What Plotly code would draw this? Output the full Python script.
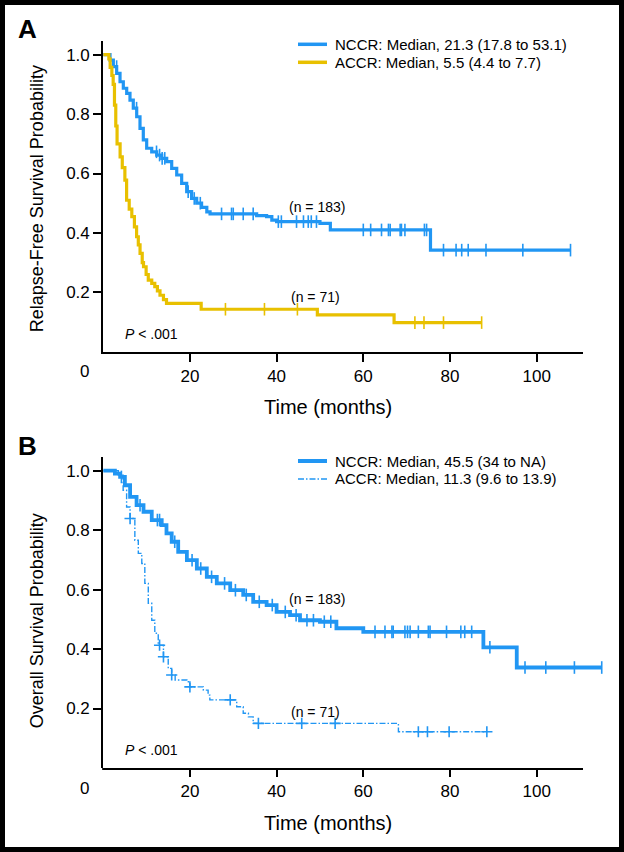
import numpy as np
import plotly.graph_objects as go

W, H = 624, 852

# ---------------- Panel A: relapse-free survival ----------------
rfs_nccr_t = [0, 1.57, 2.34, 3.11, 3.88, 4.64, 5.42, 6.18, 6.94, 7.73, 8.49, 9.25, 10.03,
              11.19, 12.34, 13.5, 14.65, 15.8, 16.96, 18.1, 19.26, 20.4, 21.57, 22.7, 23.9,
              24.65, 35.4, 37.7, 38.9, 40.0, 50.0, 52.4, 75.5]
rfs_nccr_s = [1.0, 0.982, 0.960, 0.937, 0.909, 0.887, 0.870, 0.847, 0.820, 0.791, 0.752, 0.713,
              0.685, 0.673, 0.662, 0.651, 0.640, 0.617, 0.595, 0.567, 0.539, 0.516, 0.500,
              0.486, 0.471, 0.464, 0.458, 0.455, 0.443, 0.438, 0.432, 0.410, 0.342]
rfs_nccr_end = 107.8
rfs_nccr_cens = [3.1, 7.7, 12.3, 13.0, 13.6, 14.2, 19.6, 21.0, 22.4, 27.3, 29.6, 30.0, 32.3,
                 34.6, 40.4, 41.1, 44.6, 46.2, 47.3, 48.0, 49.2, 60.0, 61.7, 64.2, 65.8, 66.2,
                 68.5, 68.8, 69.6, 74.1, 74.6, 78.5, 81.4, 82.7, 84.2, 88.3, 96.8, 107.8]

rfs_accr_t = [0, 1.3, 1.6, 2.0, 2.3, 2.6, 2.9, 3.2, 3.9, 4.4, 5.0, 5.4, 6.0, 6.6, 7.2, 7.7,
              8.1, 8.5, 9.0, 9.3, 9.9, 10.4, 11.2, 11.9, 12.5, 13.1, 13.9, 14.6, 22.6, 49.4, 67.1]
rfs_accr_s = [1.0, 0.986, 0.957, 0.93, 0.90, 0.83, 0.76, 0.70, 0.656, 0.62, 0.578, 0.51, 0.48,
              0.455, 0.42, 0.387, 0.36, 0.331, 0.30, 0.286, 0.26, 0.241, 0.23, 0.219, 0.205,
              0.19, 0.175, 0.163, 0.143, 0.124, 0.098]
rfs_accr_end = 87.3
rfs_accr_cens = [28.2, 37.2, 44.8, 71.9, 74.0, 78.5, 87.3]

# ---------------- Panel B: overall survival ----------------
os_nccr_t = [0, 2.7, 3.9, 5.0, 6.2, 7.7, 9.3, 11.2, 13.5, 14.6, 15.8, 17.3, 19.3, 21.6, 23.9,
             26.2, 29.3, 32.3, 34.6, 37.7, 40.0, 43.1, 45.4, 50.0, 53.8, 60.0, 87.7, 95.4]
os_nccr_s = [1.0, 0.99, 0.979, 0.951, 0.912, 0.884, 0.862, 0.834, 0.817, 0.789, 0.761, 0.727,
             0.699, 0.671, 0.643, 0.621, 0.598, 0.582, 0.559, 0.548, 0.525, 0.514, 0.497,
             0.492, 0.470, 0.458, 0.406, 0.338]
os_nccr_end = 115.0
os_nccr_cens = [4.2, 8.5, 12.5, 13.0, 16.5, 20.5, 22.5, 25.0, 28.0, 30.5, 33.0, 36.0, 39.0,
                42.0, 44.5, 47.0, 48.5, 51.0, 52.5, 62.7, 65.0, 66.6, 66.9, 69.6, 70.2, 70.8,
                72.7, 75.0, 75.4, 79.2, 82.5, 83.4, 85.0, 89.2, 97.3, 102.1, 108.7, 115.0]

os_accr_t = [0, 3.5, 4.6, 5.4, 6.2, 7.3, 8.1, 8.9, 9.6, 10.4, 11.2, 11.9, 12.7, 13.9, 15.0,
             15.8, 16.6, 19.3, 20.0, 23.1, 24.2, 24.6, 30.8, 32.3, 33.5, 34.6, 68.1]
os_accr_s = [1.0, 0.985, 0.934, 0.878, 0.839, 0.766, 0.722, 0.688, 0.621, 0.554, 0.497, 0.453,
             0.413, 0.374, 0.335, 0.313, 0.296, 0.29, 0.273, 0.262, 0.245, 0.229, 0.206,
             0.184, 0.172, 0.150, 0.122]
os_accr_end = 88.5
os_accr_cens = [6.2, 13.0, 13.9, 15.8, 20.0, 29.3, 35.8, 45.8, 53.5, 72.7, 74.8, 79.8, 88.5]

x_tick_vals = [20, 40, 60, 80, 100]
y_tick_vals = [0.2, 0.4, 0.6, 0.8, 1.0]
y_tick_text = ["0.2", "0.4", "0.6", "0.8", "1.0"]

leg_a = ["NCCR: Median, 21.3 (17.8 to 53.1)", "ACCR: Median, 5.5 (4.4 to 7.7)"]
leg_b = ["NCCR: Median, 45.5 (34 to NA)", "ACCR: Median, 11.3 (9.6 to 13.9)"]

BLUE = "#2196f3"
YELLOW = "#e8c000"
FONT = "Liberation Sans, Arial, sans-serif"
TFONT = "Liberation Sans Narrow, Arial Narrow, Liberation Sans, Arial, sans-serif"
DASHDOT = "6px,2px,1.5px,2px"


def px(x):
    return x / W


def py(y):
    return 1 - y / H


def step_val(t, s, x):
    t = np.asarray(t)
    s = np.asarray(s)
    idx = np.searchsorted(t, np.asarray(x), side="right") - 1
    return s[idx]


fig = go.Figure()


def add_curve(t, s, end, cens, color, width, dash, name, xa, ya, csym, csize):
    xs = list(t) + [end]
    ys = list(s) + [s[-1]]
    fig.add_trace(go.Scatter(x=xs, y=ys, mode="lines", line=dict(color=color, width=width, dash=dash, shape="hv"),
                             name=name, xaxis=xa, yaxis=ya, showlegend=False, hoverinfo="skip"))
    fig.add_trace(go.Scatter(x=cens, y=step_val(t, s, cens), mode="markers",
                             marker=dict(symbol=csym, size=csize, color=color, line=dict(color=color, width=1.6)),
                             showlegend=False, xaxis=xa, yaxis=ya, hoverinfo="skip", cliponaxis=False))


add_curve(rfs_nccr_t, rfs_nccr_s, rfs_nccr_end, rfs_nccr_cens, BLUE, 3.2, "solid", leg_a[0], "x", "y", "line-ns-open", 9)
add_curve(rfs_accr_t, rfs_accr_s, rfs_accr_end, rfs_accr_cens, YELLOW, 3.2, "solid", leg_a[1], "x", "y", "line-ns-open", 9)
add_curve(os_nccr_t, os_nccr_s, os_nccr_end, os_nccr_cens, BLUE, 3.8, "solid", leg_b[0], "x2", "y2", "line-ns-open", 9)
add_curve(os_accr_t, os_accr_s, os_accr_end, os_accr_cens, BLUE, 1.4, DASHDOT, leg_b[1], "x2", "y2", "cross-thin-open", 8)

XSCALE = 4.335  # px per month
X0 = 103.2
A_TOP, A_BOT = 40.7, 351.7
B_TOP, B_BOT = 456.7, 768.0
A_RIGHT = 583.0
B_RIGHT = 606.0

axis_common = dict(showgrid=False, zeroline=False, ticks="outside", ticklen=8, tickwidth=2,
                   tickcolor="black", linecolor="black", linewidth=2,
                   tickfont=dict(family=FONT, size=17, color="black"), fixedrange=True)

fig.update_layout(
    width=W, height=H, margin=dict(l=0, r=0, t=0, b=0), autosize=False,
    paper_bgcolor="white", plot_bgcolor="white", showlegend=False,
    xaxis=dict(domain=[px(X0), px(A_RIGHT)], range=[0, (A_RIGHT - X0) / XSCALE], anchor="y",
               tickvals=x_tick_vals, showline=True, **axis_common),
    yaxis=dict(domain=[py(A_BOT), py(A_TOP)], range=[0, (A_BOT - A_TOP) / 297.0], anchor="x",
               tickvals=y_tick_vals, ticktext=y_tick_text, showline=True, **axis_common),
    xaxis2=dict(domain=[px(X0), px(B_RIGHT)], range=[0, (B_RIGHT - X0) / XSCALE], anchor="y2",
                tickvals=x_tick_vals, showline=False, **axis_common),
    yaxis2=dict(domain=[py(B_BOT), py(B_TOP)], range=[0, (B_BOT - B_TOP) / 297.3], anchor="x2",
                tickvals=y_tick_vals, ticktext=y_tick_text, showline=True, **axis_common),
)

shapes = [
    dict(type="rect", xref="paper", yref="paper", x0=px(2.5), x1=px(621.5), y0=py(849.5), y1=py(2.5),
         line=dict(color="black", width=5), fillcolor="rgba(0,0,0,0)", layer="above"),
    dict(type="line", xref="paper", yref="paper", x0=px(X0 - 1), x1=px(A_RIGHT), y0=py(B_BOT + 1), y1=py(B_BOT + 1),
         line=dict(color="black", width=2)),
]

ann = []


def add_ann(text, x, y, size, family=FONT, angle=0, xanchor="center"):
    ann.append(dict(text=text, x=px(x), y=py(y), xref="paper", yref="paper", showarrow=False,
                    xanchor=xanchor, yanchor="middle", textangle=angle,
                    font=dict(family=family, size=size, color="black")))


# legends (key swatch + label)
legend_rows = [
    (44.3, leg_a[0], BLUE, 3.5, "solid"),
    (62.3, leg_a[1], YELLOW, 3.5, "solid"),
    (461.0, leg_b[0], BLUE, 4.0, "solid"),
    (479.0, leg_b[1], BLUE, 1.4, DASHDOT),
]
for (yy, label, color, lw, dash) in legend_rows:
    shapes.append(dict(type="line", xref="paper", yref="paper", x0=px(298), x1=px(327), y0=py(yy), y1=py(yy),
                       line=dict(color=color, width=lw, dash=dash)))
    add_ann(label, 333, yy, 15, xanchor="left")

fig.update_layout(shapes=shapes)

add_ann("<b>A</b>", 27, 29, 26)
add_ann("<b>B</b>", 27, 446, 26)
add_ann("Relapse-Free Survival Probability", 37, (A_TOP + A_BOT) / 2 + 3, 18, TFONT, -90)
add_ann("Overall Survival Probability", 37, (B_TOP + B_BOT) / 2 + 9, 18, TFONT, -90)
for yb in [A_BOT, B_BOT]:
    add_ann("Time (months)", 328, yb + 55, 20, TFONT)
    add_ann("0", 85, yb + 20, 17)
    add_ann("<i>P</i> < .001", 123, yb - 18, 14, xanchor="left")
for (x, y, t) in [(317, 207, "(n = 183)"), (315, 297, "(n = 71)"), (317, 599, "(n = 183)"), (315, 712, "(n = 71)")]:
    add_ann(t, x, y, 14)
fig.update_layout(annotations=ann)

fig.write_html("out.html", config={"displayModeBar": False},
               post_script="document.body.style.margin='0';document.body.style.overflow='hidden';")
